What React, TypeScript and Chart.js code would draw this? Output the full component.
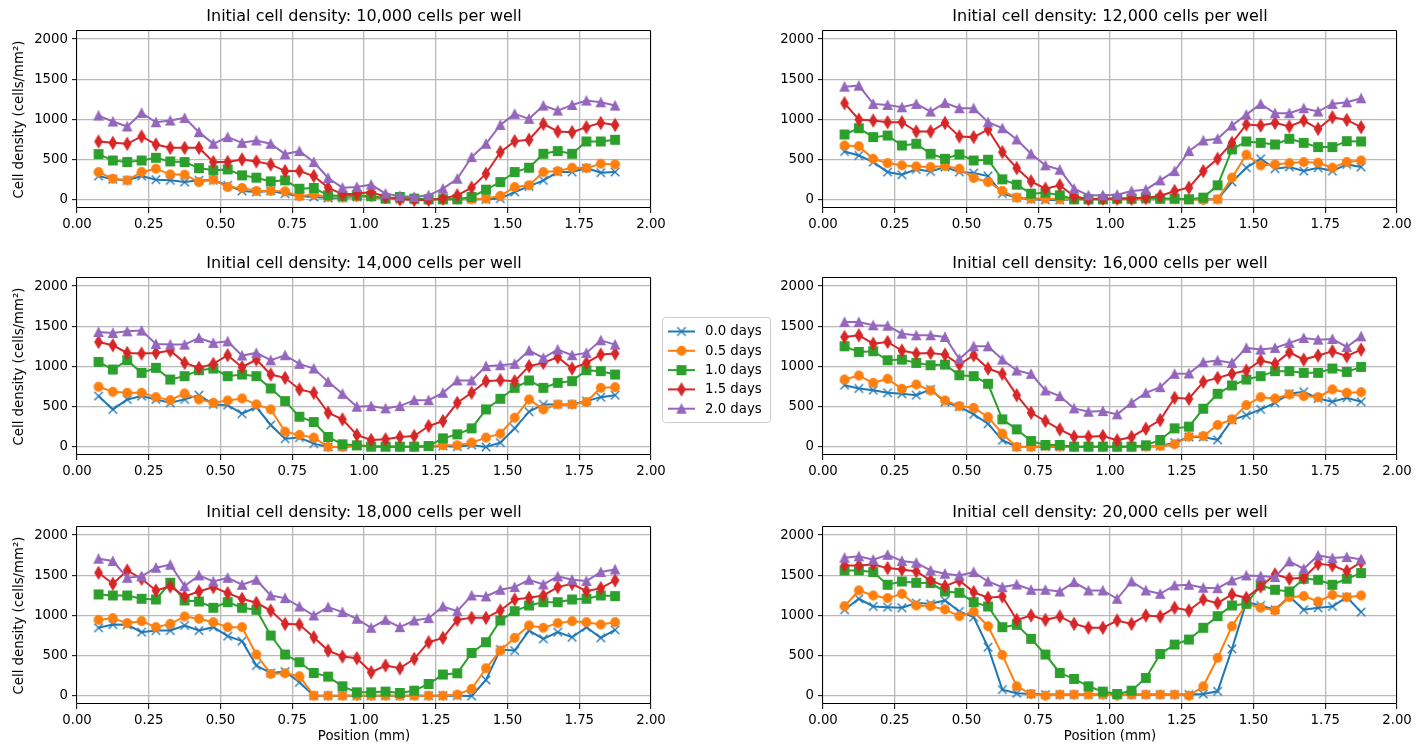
import React, { useEffect, useRef } from 'react';
import { Chart, registerables } from 'chart.js';

Chart.register(...registerables);

const FONT = "'DejaVu Sans', 'Liberation Sans', sans-serif";

// ---------------- DATA ----------------
const positionsMm = [0.075, 0.125, 0.175, 0.225, 0.275, 0.325, 0.375, 0.425, 0.475, 0.525, 0.575, 0.625, 0.675, 0.725, 0.775, 0.825, 0.875, 0.925, 0.975, 1.025, 1.075, 1.125, 1.175, 1.225, 1.275, 1.325, 1.375, 1.425, 1.475, 1.525, 1.575, 1.625, 1.675, 1.725, 1.775, 1.825, 1.875];

const seriesLabels = ['0.0 days', '0.5 days', '1.0 days', '1.5 days', '2.0 days'];

const panelTitles = [
  'Initial cell density: 10,000 cells per well',
  'Initial cell density: 12,000 cells per well',
  'Initial cell density: 14,000 cells per well',
  'Initial cell density: 16,000 cells per well',
  'Initial cell density: 18,000 cells per well',
  'Initial cell density: 20,000 cells per well',
];

const yAxisLabel = 'Cell density (cells/mm²)';
const xAxisLabel = 'Position (mm)';
const xTickValues = [0, 0.25, 0.5, 0.75, 1.0, 1.25, 1.5, 1.75, 2.0];
const xTickLabels = ['0.00', '0.25', '0.50', '0.75', '1.00', '1.25', '1.50', '1.75', '2.00'];
const yTickValues = [0, 500, 1000, 1500, 2000];
const yTickLabels = ['0', '500', '1000', '1500', '2000'];

const dens10k_d00 = [297, 256, 244, 297, 252, 244, 223, 244, 244, 182, 112, 99, 112, 78, 50, 37, 25, 25, 37, 37, 17, 8, 8, 8, 8, 8, 8, 8, 17, 99, 169, 244, 347, 347, 396, 339, 347];
const dens10k_d05 = [347, 264, 244, 347, 388, 318, 314, 223, 252, 161, 149, 112, 112, 107, 45, 70, 37, 29, 37, 37, 17, 8, 17, 8, 8, 8, 8, 17, 50, 161, 182, 347, 359, 401, 396, 450, 442];
const dens10k_d10 = [570, 491, 471, 491, 524, 479, 471, 396, 368, 380, 306, 277, 231, 244, 140, 149, 58, 50, 58, 50, 17, 37, 17, 8, 8, 8, 37, 128, 223, 347, 401, 574, 607, 574, 727, 727, 748];
const dens10k_d15 = [727, 710, 698, 789, 690, 648, 648, 648, 471, 471, 504, 479, 442, 359, 359, 297, 153, 70, 78, 99, 37, 8, 0, 0, 17, 58, 153, 326, 595, 731, 748, 946, 851, 843, 905, 958, 933];
const dens10k_d20 = [1049, 975, 913, 1082, 966, 987, 1020, 843, 698, 781, 710, 739, 698, 570, 607, 471, 273, 153, 161, 190, 78, 50, 37, 58, 140, 264, 533, 698, 933, 1070, 1008, 1173, 1111, 1181, 1235, 1214, 1173];

const dens12k_d00 = [603, 553, 471, 347, 314, 380, 355, 409, 347, 335, 297, 78, 29, 8, 0, 0, 8, 8, 8, 8, 8, 8, 8, 8, 8, 8, 8, 223, 401, 512, 388, 409, 359, 401, 359, 442, 409];
const dens12k_d05 = [677, 669, 512, 458, 430, 417, 409, 421, 388, 273, 223, 112, 29, 17, 17, 8, 8, 8, 8, 8, 8, 8, 8, 8, 8, 0, 8, 277, 562, 430, 442, 458, 471, 463, 401, 471, 491];
const dens12k_d10 = [814, 892, 781, 801, 677, 698, 574, 512, 566, 491, 500, 256, 190, 78, 91, 58, 8, 8, 8, 17, 17, 29, 17, 17, 8, 29, 182, 628, 727, 710, 690, 760, 710, 657, 657, 731, 727];
const dens12k_d15 = [1202, 999, 987, 966, 966, 851, 851, 958, 789, 781, 876, 595, 396, 231, 140, 182, 45, 8, 17, 17, 17, 29, 50, 112, 153, 359, 512, 710, 938, 925, 958, 913, 987, 884, 1028, 995, 905];
const dens12k_d20 = [1408, 1421, 1194, 1181, 1152, 1194, 1099, 1206, 1140, 1140, 966, 892, 752, 574, 430, 376, 140, 58, 58, 66, 111, 128, 244, 359, 607, 739, 760, 925, 1061, 1194, 1078, 1078, 1140, 1099, 1194, 1214, 1264];

const dens14k_d00 = [632, 467, 591, 632, 591, 549, 591, 644, 529, 520, 413, 496, 273, 103, 116, 41, 0, 0, 12, 12, 4, 4, 4, 4, 12, 4, 25, 0, 54, 231, 438, 529, 529, 529, 570, 619, 644];
const dens14k_d05 = [748, 686, 673, 673, 619, 582, 665, 591, 549, 578, 603, 529, 467, 190, 149, 116, 0, 0, 21, 12, 12, 4, 4, 12, 21, 21, 54, 116, 165, 363, 591, 467, 529, 529, 558, 735, 743];
const dens14k_d10 = [1057, 962, 1078, 921, 983, 838, 880, 954, 975, 880, 900, 880, 727, 570, 376, 310, 124, 33, 21, 4, 4, 4, 4, 12, 107, 157, 231, 467, 599, 735, 826, 735, 797, 818, 954, 942, 900];
const dens14k_d15 = [1305, 1264, 1169, 1161, 1169, 1198, 1045, 983, 1033, 1140, 991, 1086, 900, 859, 715, 673, 425, 343, 149, 87, 95, 124, 136, 260, 322, 549, 673, 818, 830, 818, 1004, 1045, 1115, 975, 1045, 1148, 1161];
const dens14k_d20 = [1429, 1417, 1437, 1446, 1280, 1272, 1272, 1355, 1293, 1313, 1136, 1169, 1078, 1140, 1033, 975, 809, 661, 500, 508, 479, 508, 582, 582, 673, 826, 826, 1004, 1016, 1033, 1198, 1107, 1210, 1140, 1169, 1326, 1272];

const dens16k_d00 = [768, 727, 706, 673, 661, 644, 715, 558, 500, 405, 289, 83, 0, 4, 4, 4, 4, 4, 4, 4, 4, 4, 12, 54, 124, 124, 87, 335, 396, 467, 549, 661, 686, 603, 562, 611, 562];
const dens16k_d05 = [838, 888, 797, 847, 723, 776, 702, 578, 508, 487, 372, 165, 0, 0, 12, 4, 4, 4, 4, 4, 4, 4, 12, 33, 128, 136, 273, 343, 520, 619, 603, 653, 632, 619, 715, 673, 681];
const dens16k_d10 = [1251, 1181, 1190, 1078, 1086, 1045, 1016, 1024, 892, 880, 785, 343, 219, 74, 25, 25, 4, 4, 4, 4, 4, 21, 87, 231, 252, 475, 661, 764, 838, 880, 942, 942, 921, 921, 975, 933, 995];
const dens16k_d15 = [1367, 1388, 1284, 1305, 1198, 1161, 1169, 1148, 1024, 1140, 975, 909, 644, 425, 322, 219, 128, 128, 136, 83, 124, 227, 335, 611, 599, 809, 859, 909, 950, 1074, 1033, 1177, 1086, 1136, 1190, 1128, 1210];
const dens16k_d20 = [1553, 1553, 1512, 1507, 1408, 1388, 1388, 1367, 1094, 1251, 1251, 1086, 950, 909, 702, 632, 479, 438, 446, 405, 549, 673, 743, 909, 913, 1053, 1074, 1045, 1231, 1210, 1231, 1293, 1355, 1334, 1342, 1243, 1375];

const dens18k_d00 = [847, 888, 884, 793, 813, 813, 876, 813, 855, 743, 681, 378, 286, 303, 170, 4, 4, 4, 4, 4, 4, 4, 4, 4, 4, 4, 0, 199, 577, 564, 813, 710, 793, 730, 855, 722, 822];
const dens18k_d05 = [946, 967, 905, 930, 855, 896, 988, 959, 917, 855, 855, 515, 274, 282, 245, 4, 4, 4, 4, 4, 4, 4, 4, 4, 4, 17, 87, 344, 564, 722, 876, 847, 905, 930, 917, 888, 917];
const dens18k_d10 = [1262, 1249, 1249, 1208, 1199, 1407, 1187, 1174, 1096, 1166, 1096, 1071, 751, 515, 419, 286, 241, 120, 46, 46, 54, 37, 66, 149, 266, 282, 535, 668, 938, 1054, 1125, 1166, 1166, 1199, 1208, 1249, 1241];
const dens18k_d15 = [1531, 1394, 1560, 1457, 1311, 1361, 1237, 1299, 1353, 1278, 1208, 1158, 1062, 896, 888, 730, 564, 490, 469, 295, 378, 344, 461, 668, 722, 946, 971, 971, 1062, 1199, 1220, 1249, 1353, 1394, 1303, 1340, 1436];
const dens18k_d20 = [1706, 1677, 1469, 1486, 1594, 1631, 1365, 1498, 1423, 1469, 1382, 1444, 1249, 1216, 1112, 1000, 1104, 1042, 959, 847, 946, 855, 938, 967, 1112, 1054, 1249, 1237, 1320, 1353, 1444, 1386, 1486, 1444, 1428, 1540, 1573];

const dens20k_d00 = [1071, 1208, 1112, 1104, 1096, 1154, 1145, 1187, 1050, 979, 606, 79, 33, 25, 17, 17, 17, 17, 17, 17, 17, 17, 17, 17, 17, 25, 58, 585, 1166, 1125, 1071, 1237, 1071, 1096, 1112, 1228, 1042];
const dens20k_d05 = [1116, 1311, 1249, 1216, 1270, 1125, 1116, 1075, 992, 1050, 867, 510, 120, 25, 4, 17, 17, 17, 17, 4, 17, 17, 17, 17, 4, 120, 473, 867, 1145, 1096, 1062, 1228, 1241, 1174, 1257, 1228, 1249];
const dens20k_d10 = [1560, 1560, 1540, 1382, 1423, 1407, 1403, 1299, 1282, 1166, 1112, 855, 884, 710, 515, 286, 212, 120, 54, 25, 66, 224, 523, 639, 701, 847, 992, 1125, 1145, 1374, 1320, 1299, 1457, 1444, 1382, 1457, 1527];
const dens20k_d15 = [1623, 1623, 1635, 1589, 1573, 1548, 1436, 1365, 1436, 1291, 1220, 1237, 946, 1000, 946, 988, 896, 847, 847, 938, 896, 1000, 988, 1096, 1062, 1199, 1154, 1262, 1220, 1361, 1511, 1457, 1469, 1643, 1623, 1552, 1664];
const dens20k_d20 = [1718, 1735, 1693, 1755, 1677, 1656, 1560, 1519, 1498, 1540, 1423, 1353, 1386, 1320, 1320, 1299, 1415, 1311, 1311, 1208, 1423, 1311, 1270, 1374, 1382, 1345, 1340, 1436, 1498, 1490, 1477, 1672, 1581, 1747, 1714, 1727, 1697];

const panelSeries = [
  [dens10k_d00, dens10k_d05, dens10k_d10, dens10k_d15, dens10k_d20],
  [dens12k_d00, dens12k_d05, dens12k_d10, dens12k_d15, dens12k_d20],
  [dens14k_d00, dens14k_d05, dens14k_d10, dens14k_d15, dens14k_d20],
  [dens16k_d00, dens16k_d05, dens16k_d10, dens16k_d15, dens16k_d20],
  [dens18k_d00, dens18k_d05, dens18k_d10, dens18k_d15, dens18k_d20],
  [dens20k_d00, dens20k_d05, dens20k_d10, dens20k_d15, dens20k_d20],
];

// ---------------- STYLE / LAYOUT ----------------
const seriesColors = ['#1f77b4', '#ff7f0e', '#2ca02c', '#d62728', '#9467bd'];
const seriesMarkers = ['x', 'o', 's', 'd', '^'];

const AREA_W = 574;
const AREA_H = 177;
const TITLE_H = 31;

type PanelLayout = {
  areaLeft: number; areaTop: number; yAxisW: number; xAxisH: number; padR: number;
  yTitle: boolean; xTitle: boolean; legend: boolean;
};

const panelLayouts: PanelLayout[] = [
  { areaLeft: 77, areaTop: 31, yAxisW: 77, xAxisH: 30, padR: 20, yTitle: true, xTitle: false, legend: false },
  { areaLeft: 823, areaTop: 31, yAxisW: 50, xAxisH: 30, padR: 20, yTitle: false, xTitle: false, legend: false },
  { areaLeft: 77, areaTop: 278, yAxisW: 77, xAxisH: 30, padR: 126, yTitle: true, xTitle: false, legend: true },
  { areaLeft: 823, areaTop: 278, yAxisW: 50, xAxisH: 30, padR: 20, yTitle: false, xTitle: false, legend: false },
  { areaLeft: 77, areaTop: 527, yAxisW: 77, xAxisH: 42, padR: 20, yTitle: true, xTitle: true, legend: false },
  { areaLeft: 823, areaTop: 527, yAxisW: 50, xAxisH: 42, padR: 20, yTitle: false, xTitle: true, legend: false },
];

// legend box in page coordinates
const LEGEND = { left: 662, top: 317, width: 108, height: 105, firstRowY: 331.5, rowStep: 19.3 };

function makeMarker(kind: string, color: string): HTMLCanvasElement {
  const c = document.createElement('canvas');
  const S = 16;
  c.width = S; c.height = S;
  const ctx = c.getContext('2d')!;
  const m = S / 2;
  const s = 8.5;
  ctx.fillStyle = color;
  ctx.strokeStyle = color;
  ctx.lineWidth = 1.3;
  ctx.lineJoin = 'miter';
  ctx.beginPath();
  if (kind === 'x') {
    const h = s / 2;
    ctx.moveTo(m - h, m - h); ctx.lineTo(m + h, m + h);
    ctx.moveTo(m - h, m + h); ctx.lineTo(m + h, m - h);
    ctx.lineWidth = 1.4;
    ctx.stroke();
  } else if (kind === 'o') {
    ctx.arc(m, m, s / 2, 0, Math.PI * 2);
    ctx.fill(); ctx.stroke();
  } else if (kind === 's') {
    ctx.rect(m - s / 2, m - s / 2, s, s);
    ctx.fill(); ctx.stroke();
  } else if (kind === 'd') {
    const hh = s * 0.7071;
    const hw = hh * 0.6;
    ctx.moveTo(m, m - hh); ctx.lineTo(m + hw, m); ctx.lineTo(m, m + hh); ctx.lineTo(m - hw, m);
    ctx.closePath();
    ctx.fill(); ctx.stroke();
  } else if (kind === '^') {
    ctx.moveTo(m, m - s / 2); ctx.lineTo(m + s / 2, m + s / 2); ctx.lineTo(m - s / 2, m + s / 2);
    ctx.closePath();
    ctx.fill(); ctx.stroke();
  }
  return c;
}

const framePlugin = {
  id: 'mplFrame',
  afterDatasetsDraw(chart: any) {
    const { ctx, chartArea } = chart;
    const l = Math.round(chartArea.left) - 0.5;
    const t = Math.round(chartArea.top) - 0.5;
    const r = Math.round(chartArea.right) - 0.5;
    const b = Math.round(chartArea.bottom) - 0.5;
    ctx.save();
    ctx.strokeStyle = '#000';
    ctx.lineWidth = 1;
    ctx.beginPath();
    ctx.rect(l, t, r - l, b - t);
    ctx.stroke();
    ctx.restore();
  },
};

function makeLegendPlugin(markers: HTMLCanvasElement[], canvasTop: number) {
  return {
    id: 'mplLegend',
    afterDraw(chart: any) {
      const ctx = chart.ctx as CanvasRenderingContext2D;
      const x0 = LEGEND.left + 0.5;
      const y0 = LEGEND.top - canvasTop + 0.5;
      ctx.save();
      ctx.beginPath();
      const r = 3;
      const w = LEGEND.width, h = LEGEND.height;
      ctx.moveTo(x0 + r, y0);
      ctx.lineTo(x0 + w - r, y0); ctx.quadraticCurveTo(x0 + w, y0, x0 + w, y0 + r);
      ctx.lineTo(x0 + w, y0 + h - r); ctx.quadraticCurveTo(x0 + w, y0 + h, x0 + w - r, y0 + h);
      ctx.lineTo(x0 + r, y0 + h); ctx.quadraticCurveTo(x0, y0 + h, x0, y0 + h - r);
      ctx.lineTo(x0, y0 + r); ctx.quadraticCurveTo(x0, y0, x0 + r, y0);
      ctx.closePath();
      ctx.fillStyle = 'rgba(255,255,255,0.8)';
      ctx.fill();
      ctx.strokeStyle = '#cccccc';
      ctx.lineWidth = 1;
      ctx.stroke();
      ctx.font = `13.3px ${FONT}`;
      ctx.textBaseline = 'middle';
      ctx.textAlign = 'left';
      seriesLabels.forEach((lab, k) => {
        const cy = LEGEND.firstRowY + k * LEGEND.rowStep - canvasTop;
        ctx.strokeStyle = seriesColors[k];
        ctx.lineWidth = 2;
        ctx.beginPath();
        ctx.moveTo(LEGEND.left + 6, cy);
        ctx.lineTo(LEGEND.left + 33, cy);
        ctx.stroke();
        const mk = markers[k];
        ctx.drawImage(mk, LEGEND.left + 19.5 - mk.width / 2, cy - mk.height / 2);
        ctx.fillStyle = '#000';
        ctx.fillText(lab, LEGEND.left + 43, cy + 0.5);
      });
      ctx.restore();
    },
  };
}

function Panel({ index }: { index: number }) {
  const ref = useRef<HTMLCanvasElement | null>(null);
  const L = panelLayouts[index];
  const canvasLeft = L.areaLeft - L.yAxisW;
  const canvasTop = L.areaTop - TITLE_H;
  const canvasW = L.yAxisW + AREA_W + L.padR;
  const canvasH = TITLE_H + AREA_H + L.xAxisH;

  useEffect(() => {
    if (!ref.current) return;
    const markers = seriesMarkers.map((m, k) => makeMarker(m, seriesColors[k]));
    const series = panelSeries[index];
    const plugins: any[] = [framePlugin];
    if (L.legend) plugins.push(makeLegendPlugin(markers, canvasTop));

    const gridOpts = { color: '#b8b8b8', lineWidth: 1.3, drawTicks: true, tickLength: 5, tickColor: '#000', tickWidth: 1 };

    const chart = new Chart(ref.current, {
      type: 'line',
      data: {
        datasets: series.map((vals, k) => ({
          label: seriesLabels[k],
          data: positionsMm.map((x, i) => ({ x, y: vals[i] })),
          borderColor: seriesColors[k],
          backgroundColor: seriesColors[k],
          borderWidth: 2,
          pointStyle: markers[k] as any,
          pointRadius: 4,
          pointHoverRadius: 4,
          tension: 0,
          order: 4 - k,
          clip: 6,
        })),
      },
      options: {
        animation: false,
        responsive: false,
        maintainAspectRatio: false,
        devicePixelRatio: 1,
        events: [],
        layout: { padding: { left: 0, right: L.padR, top: 0, bottom: 0 } },
        plugins: {
          legend: { display: false },
          tooltip: { enabled: false },
          title: {
            display: true,
            fullSize: false,
            text: panelTitles[index],
            color: '#000',
            font: { family: FONT, size: 16, weight: 'normal', lineHeight: 1.25 },
            padding: { top: 7, bottom: 4 },
          },
        },
        scales: {
          x: {
            type: 'linear',
            min: 0,
            max: 2,
            afterFit: (s: any) => { s.height = L.xAxisH; s.paddingLeft = 0; s.paddingRight = 0; },
            afterBuildTicks: (s: any) => { s.ticks = xTickValues.map((v) => ({ value: v })); },
            ticks: {
              color: '#000',
              padding: 4,
              maxRotation: 0,
              autoSkip: false,
              font: { family: FONT, size: 13.3 },
              callback: (v: any) => {
                const i = xTickValues.indexOf(Number(v));
                return i >= 0 ? xTickLabels[i] : '';
              },
            },
            grid: gridOpts,
            border: { display: false },
            title: {
              display: L.xTitle,
              text: xAxisLabel,
              color: '#000',
              font: { family: FONT, size: 13.3, lineHeight: 1.2 },
              padding: { top: 0, bottom: 1 },
            },
          },
          y: {
            type: 'linear',
            min: -100,
            max: 2100,
            afterFit: (s: any) => { s.width = L.yAxisW; s.paddingTop = 0; s.paddingBottom = 0; },
            afterBuildTicks: (s: any) => { s.ticks = yTickValues.map((v) => ({ value: v })); },
            ticks: {
              color: '#000',
              padding: 4,
              font: { family: FONT, size: 13.3 },
              callback: (v: any) => {
                const i = yTickValues.indexOf(Number(v));
                return i >= 0 ? yTickLabels[i] : '';
              },
            },
            grid: gridOpts,
            border: { display: false },
            title: {
              display: L.yTitle,
              text: yAxisLabel,
              color: '#000',
              font: { family: FONT, size: 13.3, lineHeight: 1.2 },
              padding: { top: 12, bottom: 0 },
            },
          },
        },
      } as any,
      plugins,
    });
    return () => chart.destroy();
  }, [index]);

  return (
    <canvas
      ref={ref}
      width={canvasW}
      height={canvasH}
      style={{ position: 'absolute', left: canvasLeft, top: canvasTop, width: canvasW, height: canvasH }}
    />
  );
}

export default function App() {
  return (
    <div style={{ position: 'fixed', left: 0, top: 0, width: 1428, height: 744, background: '#fff', overflow: 'hidden' }}>
      {panelLayouts.map((_, i) => <Panel key={i} index={i} />)}
    </div>
  );
}
